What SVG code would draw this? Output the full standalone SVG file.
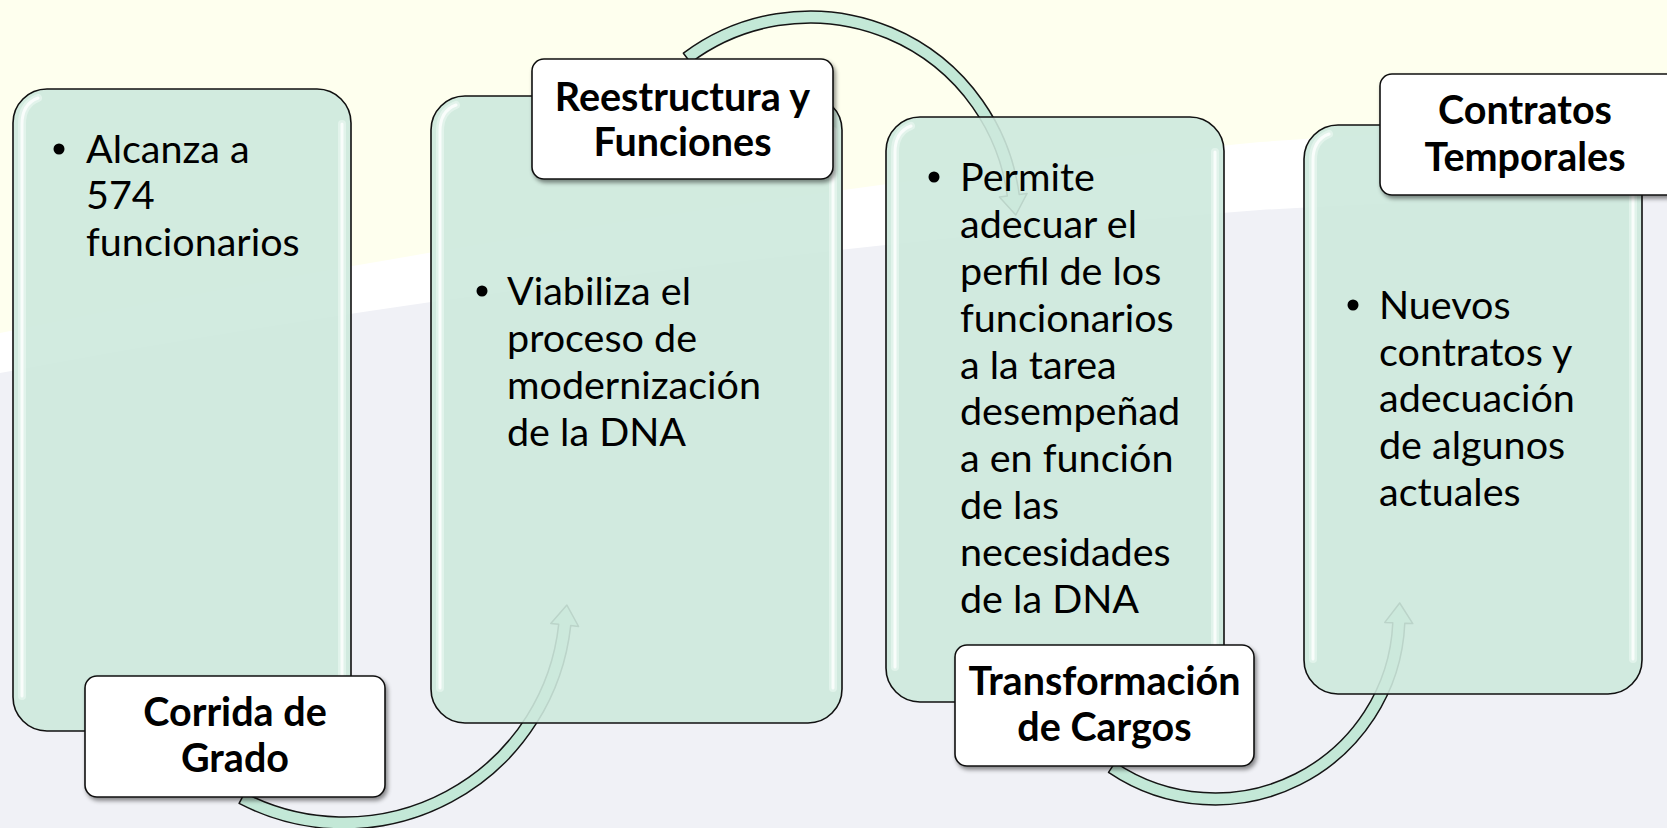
<svg xmlns="http://www.w3.org/2000/svg" width="1667" height="828" viewBox="0 0 1667 828">
<style>
.box{fill:#CDE9DD;fill-opacity:0.9;stroke:#111;stroke-width:1.6}
.hl{fill:none;stroke:#FFFFFF;stroke-opacity:0.8;stroke-width:3;stroke-linecap:round}
.glow{fill:none;stroke:#E8F6F0;stroke-opacity:0.7;stroke-width:8;stroke-linecap:round}
.lbl{fill:#FFFFFF;stroke:#111;stroke-width:1.6;filter:url(#sh)}
.t{font-family:Lato,'Liberation Sans',sans-serif;font-size:39.5px;fill:#000}
.h{font-family:Lato,'Liberation Sans',sans-serif;font-size:39.5px;font-weight:bold;fill:#000;text-anchor:middle}
.arr{fill:#C3E8D7;stroke:#151515;stroke-width:1.5;stroke-linejoin:round}
.b{fill:#000}
</style>
<defs>
<filter id="sh" x="-10%" y="-10%" width="125%" height="130%">
<feDropShadow dx="2" dy="3" stdDeviation="2" flood-color="#000" flood-opacity="0.45"/>
</filter>
</defs>
<g id="background">
<rect width="1667" height="828" fill="#F0F1F6"/>
<path d="M0 0 H1667 V194 Q1460 198 1260 210 C800 245 300 315 0 373 Z" fill="#FFFFFF"/>
<path d="M0 0 H1667 V122 Q1460 128 1260 142 C800 185 300 270 0 333 Z" fill="#FEFFEE"/>
</g>
<g id="connectors">
<path class="arr" d="M239.1 803.4 A228 228 0 0 0 570.7 625.6 L578.6 626.5 L566.9 605.1 L550.8 623.5 L558.7 624.3 A216 216 0 0 1 244.6 792.8 Z"/>
<path class="arr" d="M683.4 53.2 A211 211 0 0 1 1019.2 194.5 L1027.1 193.4 L1015.8 215 L999.4 197.1 L1007.3 196 A199 199 0 0 0 690.6 62.8 Z"/>
<path class="arr" d="M1108.5 772.3 A190 190 0 0 0 1404.8 623.3 L1412.8 623.6 L1399.7 603 L1384.8 622.4 L1392.8 622.8 A178 178 0 0 1 1115.2 762.4 Z"/>
</g>
<g id="step1">
<rect class="box" x="13" y="89" width="338" height="642" rx="34"/>
<path class="glow" d="M22 696 V124 Q22 104 38 98"/>
<path class="hl" d="M22 696 V124 Q22 104 38 98"/>
<path class="glow" d="M342 124 V696"/>
<path class="hl" d="M342 124 V696"/>
<circle class="b" cx="59" cy="149" r="5.5"/>
<text class="t" x="86" y="163">Alcanza a</text>
<text class="t" x="86" y="209">574</text>
<text class="t" x="86" y="256">funcionarios</text>
<rect class="lbl" x="85" y="676" width="300" height="121" rx="12"/>
<text class="h" x="235" y="726">Corrida de</text>
<text class="h" x="235" y="772">Grado</text>
</g>
<g id="step2">
<rect class="box" x="431" y="96" width="411" height="627" rx="34"/>
<path class="glow" d="M440 688 V131 Q440 111 456 105"/>
<path class="hl" d="M440 688 V131 Q440 111 456 105"/>
<path class="glow" d="M833 131 V688"/>
<path class="hl" d="M833 131 V688"/>
<circle class="b" cx="482" cy="291" r="5.5"/>
<text class="t" x="507" y="305">Viabiliza el</text>
<text class="t" x="507" y="352">proceso de</text>
<text class="t" x="507" y="399">modernización</text>
<text class="t" x="507" y="446">de la DNA</text>
<rect class="lbl" x="532" y="59" width="301" height="120" rx="12"/>
<text class="h" x="682.5" y="111">Reestructura y</text>
<text class="h" x="682.5" y="156">Funciones</text>
</g>
<g id="step3">
<rect class="box" x="886" y="117" width="338" height="585" rx="34"/>
<path class="glow" d="M895 667 V152 Q895 132 911 126"/>
<path class="hl" d="M895 667 V152 Q895 132 911 126"/>
<path class="glow" d="M1215 152 V667"/>
<path class="hl" d="M1215 152 V667"/>
<circle class="b" cx="934" cy="177" r="5.5"/>
<text class="t" x="960" y="191">Permite</text>
<text class="t" x="960" y="238">adecuar el</text>
<text class="t" x="960" y="285">perfil de los</text>
<text class="t" x="960" y="332">funcionarios</text>
<text class="t" x="960" y="379">a la tarea</text>
<text class="t" x="960" y="425">desempeñad</text>
<text class="t" x="960" y="472">a en función</text>
<text class="t" x="960" y="519">de las</text>
<text class="t" x="960" y="566">necesidades</text>
<text class="t" x="960" y="613">de la DNA</text>
<rect class="lbl" x="955" y="645" width="299" height="121" rx="12"/>
<text class="h" x="1104.5" y="695">Transformación</text>
<text class="h" x="1104.5" y="741">de Cargos</text>
</g>
<g id="step4">
<rect class="box" x="1304" y="125" width="338" height="569" rx="34"/>
<path class="glow" d="M1313 659 V160 Q1313 140 1329 134"/>
<path class="hl" d="M1313 659 V160 Q1313 140 1329 134"/>
<path class="glow" d="M1633 160 V659"/>
<path class="hl" d="M1633 160 V659"/>
<circle class="b" cx="1353" cy="305" r="5.5"/>
<text class="t" x="1379" y="319">Nuevos</text>
<text class="t" x="1379" y="366">contratos y</text>
<text class="t" x="1379" y="412">adecuación</text>
<text class="t" x="1379" y="459">de algunos</text>
<text class="t" x="1379" y="506">actuales</text>
<rect class="lbl" x="1380" y="74" width="300" height="121" rx="12"/>
<text class="h" x="1525" y="124">Contratos</text>
<text class="h" x="1525" y="171">Temporales</text>
</g>
</svg>
